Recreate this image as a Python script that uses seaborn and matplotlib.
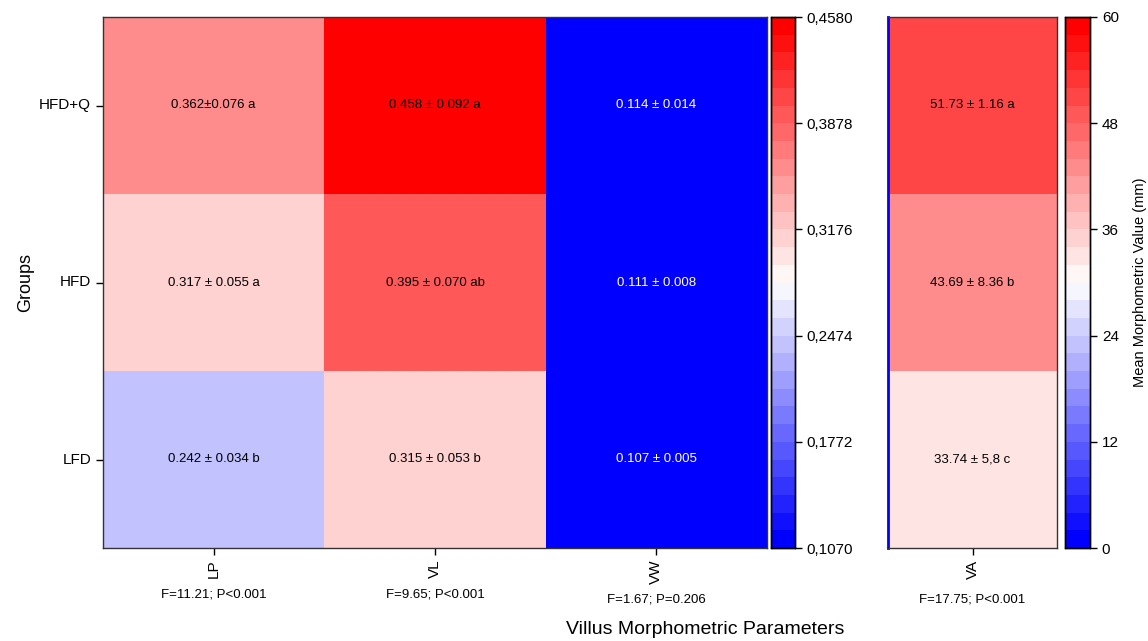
import numpy as np
import pandas as pd
import matplotlib
matplotlib.use("Agg")
import matplotlib.pyplot as plt
from matplotlib.colors import ListedColormap
import seaborn as sns

# Données
groups = ["HFD+Q", "HFD", "LFD"]
params = ["LP", "VL", "VW"]
lp_mean = [0.362, 0.317, 0.242]
vl_mean = [0.458, 0.395, 0.315]
vw_mean = [0.114, 0.111, 0.107]
va_mean = [51.73, 43.69, 33.74]

lp_text = ["0.362±0.076 a", "0.317 ± 0.055 a", "0.242 ± 0.034 b"]
vl_text = ["0.458 ± 0.092 a", "0.395 ± 0.070 ab", "0.315 ± 0.053 b"]
vw_text = ["0.114 ± 0.014", "0.111 ± 0.008", "0.107 ± 0.005"]
va_text = ["51.73 ± 1.16 a", "43.69 ± 8.36 b", "33.74 ± 5,8 c"]

stats_left = ["F=11.21; P<0.001", "F=9.65; P<0.001", "F=1.67; P=0.206"]
stats_va = "F=17.75; P<0.001"

cb1_ticks = [0.1070, 0.1772, 0.2474, 0.3176, 0.3878, 0.4580]
cb2_ticks = [0, 12, 24, 36, 48, 60]

sns.set_style("white")
plt.rcParams['font.family'] = ['Liberation Sans', 'DejaVu Sans']
plt.rcParams['text.color'] = 'black'
plt.rcParams['axes.labelcolor'] = 'black'
plt.rcParams['xtick.color'] = 'black'
plt.rcParams['ytick.color'] = 'black'

cmap = ListedColormap(plt.cm.bwr(np.linspace(0, 1, 30)))

df_left = pd.DataFrame({"LP": lp_mean, "VL": vl_mean, "VW": vw_mean}, index=groups)
ann_left = np.array([lp_text, vl_text, vw_text]).T
df_va = pd.DataFrame({"VA": va_mean}, index=groups)
ann_va = np.array([va_text]).T

fig = plt.figure(figsize=(11.48, 6.41), dpi=100)
W, H = 1148, 641
def box(x0, y0, x1, y1):
    return [x0 / W, 1 - y1 / H, (x1 - x0) / W, (y1 - y0) / H]

ax1 = fig.add_axes(box(103, 17, 767, 548))
cax1 = fig.add_axes(box(771, 17, 795, 548))
ax2 = fig.add_axes(box(888, 17, 1057, 548))
cax2 = fig.add_axes(box(1065, 17, 1090, 548))

sns.heatmap(df_left, ax=ax1, cmap=cmap, vmin=cb1_ticks[0], vmax=cb1_ticks[-1],
            annot=ann_left, fmt="", annot_kws={"fontsize": 9.5},
            cbar_ax=cax1, cbar_kws={"ticks": cb1_ticks})
sns.heatmap(df_va, ax=ax2, cmap=cmap, vmin=0, vmax=60,
            annot=ann_va, fmt="", annot_kws={"fontsize": 9.5},
            cbar_ax=cax2, cbar_kws={"ticks": cb2_ticks})

# couleur du texte : blanc sur VW, noir ailleurs
for t in ax1.texts:
    x, _ = t.get_position()
    t.set_color("white" if x > 2 else "black")
for t in ax2.texts:
    t.set_color("black")

# axes
ax1.set_xticks(np.arange(len(params)) + 0.5)
ax1.set_xticklabels(params, rotation=90, fontsize=11)
ax1.set_yticklabels(groups, rotation=0, fontsize=11)
ax1.set_ylabel("Groups", fontsize=13)
ax1.set_xlabel("")
ax2.set_xticklabels(["VA"], rotation=90, fontsize=11)
ax2.set_yticks([])
ax2.set_ylabel("")
ax2.set_xlabel("")
for a in (ax1, ax2):
    a.tick_params(axis="both", length=5, width=1, color="black", bottom=True, left=True)
    for s in a.spines.values():
        s.set_visible(True)
        s.set_color("#333333")
        s.set_linewidth(1)
ax2.spines["left"].set_color("blue")
ax2.spines["left"].set_linewidth(2)

for i, s in enumerate(stats_left):
    ax1.text(i + 0.5, 3.0 + 0.26 + (0.03 if i == 2 else 0), s, ha="center", va="center",
             fontsize=9.5, clip_on=False)
ax2.text(0.5, 3.0 + 0.29, stats_va, ha="center", va="center", fontsize=9.5, clip_on=False)

# barres de couleur
cax1.set_yticklabels([("%.4f" % v).replace(".", ",") for v in cb1_ticks], fontsize=11)
cax2.set_yticklabels([str(v) for v in cb2_ticks], fontsize=11)
for c in (cax1, cax2):
    c.tick_params(length=5, width=1, color="black", right=True)
    for s in c.spines.values():
        s.set_visible(True)
        s.set_color("black")
        s.set_linewidth(1)
cax2.set_ylabel("Mean Morphometric Value (mm)", fontsize=10.5, labelpad=10)
cax2.yaxis.set_label_position("right")

fig.text(705 / W, 1 - 630 / H, "Villus Morphometric Parameters", ha="center", va="center", fontsize=14)

fig.savefig("out.png", dpi=100)
